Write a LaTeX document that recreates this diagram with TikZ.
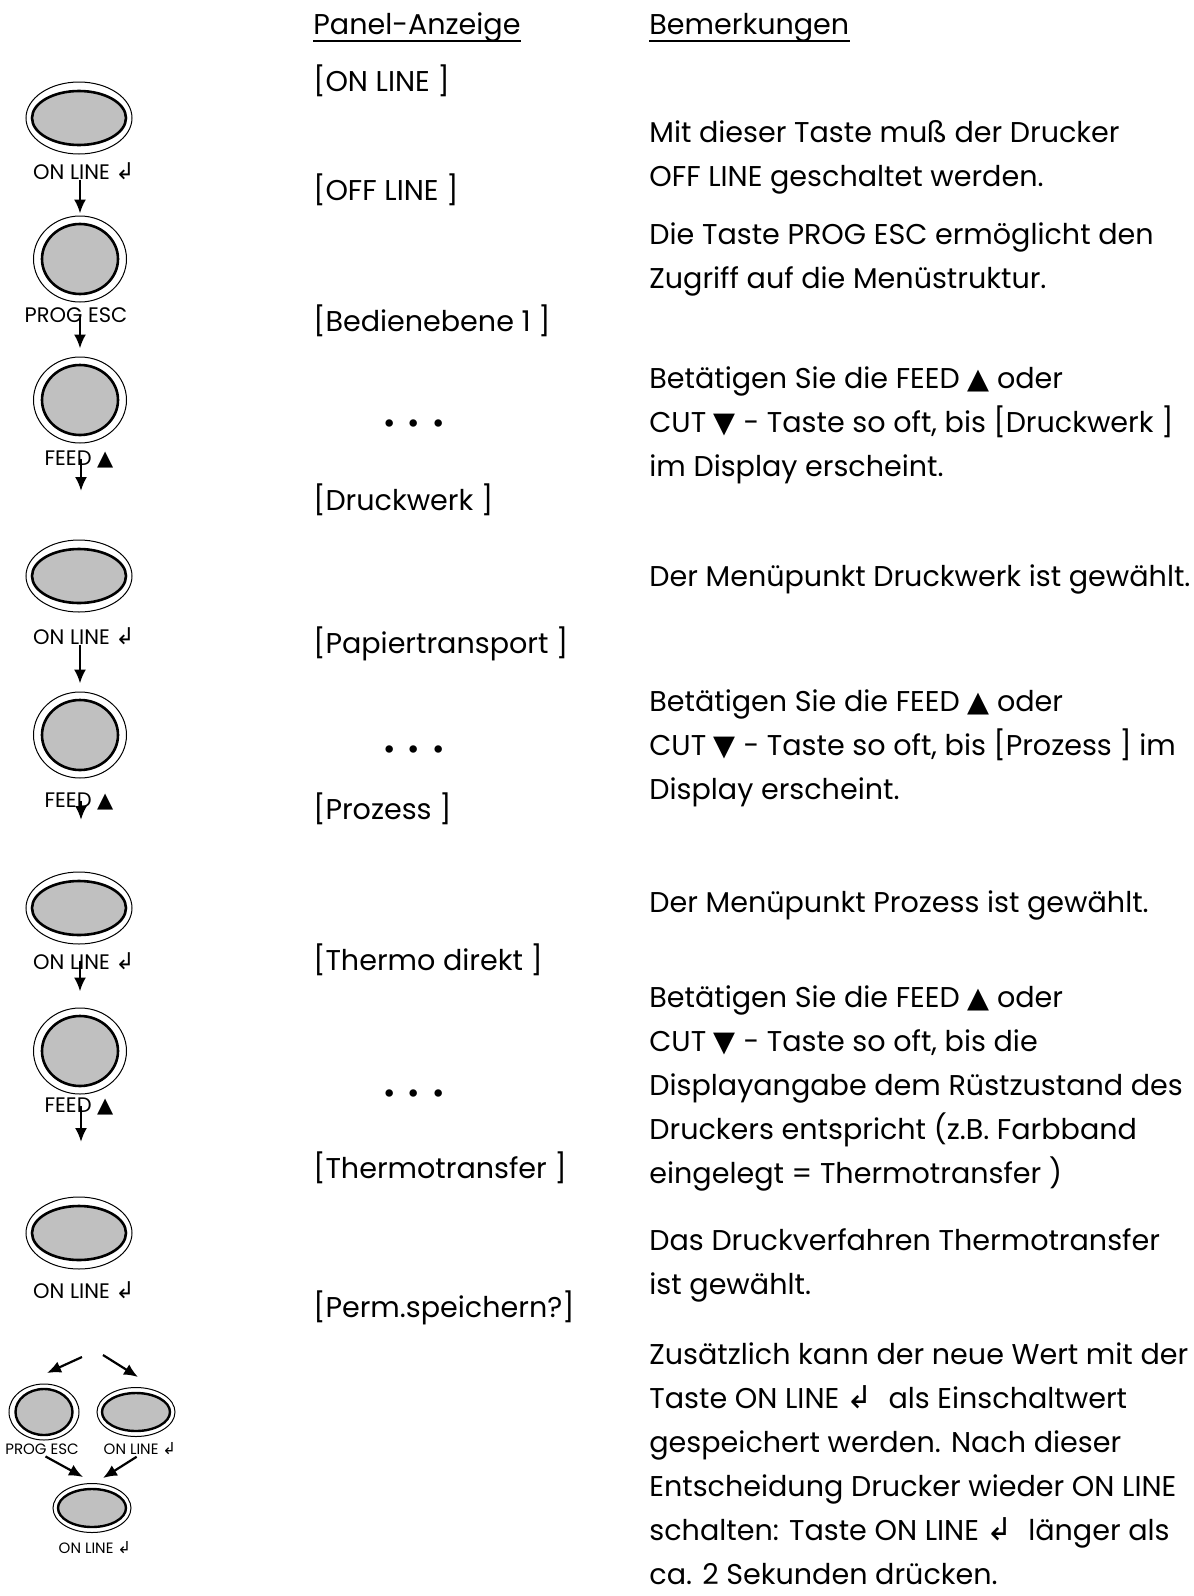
\documentclass[tikz,border=0pt]{standalone}
\usepackage{fontspec}
\setmainfont{Poppins}
\newfontfamily\symfont{DejaVu Sans}
\usepackage{tikz}
\usetikzlibrary{arrows.meta,positioning,shapes.geometric}
\definecolor{keygray}{HTML}{C0C0C0}
\newcommand{\enterkey}{{\symfont\scalebox{1.1}{↲}}}
\newcommand{\upmark}{{\symfont ▲}}
\newcommand{\downmark}{{\symfont ▼}}

\begin{document}
\begin{tikzpicture}[x=0.5pt, y=-0.5pt,
  txt/.style={anchor=base west, inner sep=0pt, font=\fontsize{14.3}{22}\selectfont},
  rem/.style={txt, align=left},
  dots/.style={inner sep=0pt, font=\fontsize{15}{22}\selectfont},
  ovalring/.style={ellipse, draw, line width=0.5pt, fill=white, inner sep=0pt,
    minimum width=53pt, minimum height=36pt},
  ovalkey/.style={ellipse, draw, line width=1.3pt, fill=keygray, inner sep=0pt,
    minimum width=47pt, minimum height=27pt},
  roundring/.style={ellipse, draw, line width=0.5pt, fill=white, inner sep=0pt,
    minimum width=46.5pt, minimum height=43pt},
  roundkey/.style={ellipse, draw, line width=1.3pt, fill=keygray, inner sep=0pt,
    minimum width=38pt, minimum height=35pt},
  smallring/.style={ellipse, draw, line width=0.5pt, fill=white, inner sep=0pt,
    minimum width=35pt, minimum height=28pt},
  smallkey/.style={ellipse, draw, line width=1.2pt, fill=keygray, inner sep=0pt,
    minimum width=28.5pt, minimum height=23pt},
  flatring/.style={ellipse, draw, line width=0.5pt, fill=white, inner sep=0pt,
    minimum width=39pt, minimum height=24.5pt},
  flatkey/.style={ellipse, draw, line width=1.2pt, fill=keygray, inner sep=0pt,
    minimum width=34pt, minimum height=19pt},
  keylabel/.style={anchor=base, inner sep=0pt, font=\fontsize{10.5}{12}\selectfont},
  tinylabel/.style={anchor=base, inner sep=0pt, font=\fontsize{7.5}{9}\selectfont},
  arr/.style={-{Latex[length=7pt, width=6pt]}, line width=1.1pt},
]
  \useasboundingbox (0,0) rectangle (1194,1596);

  % column heads
  \node[txt] (h1) at (313,34) {Panel-Anzeige};
  \node[txt] (h2) at (649,34) {Bemerkungen};
  \draw[line width=0.7pt] ([yshift=-3.5pt]h1.base west) -- ([yshift=-3.5pt]h1.base east);
  \draw[line width=0.7pt] ([yshift=-3.5pt]h2.base west) -- ([yshift=-3.5pt]h2.base east);

  % panel display
  \node[txt] (p1) at (313,91) {[ON LINE ]};
  \node[txt] (p2) at (313,200) {[OFF LINE ]};
  \node[txt] (p3) at (313,331) {[Bedienebene 1 ]};
  \node[dots] (d1) at (414,427) {•\hspace{6pt}•\hspace{6pt}•};
  \node[txt] (p4) at (313,510) {[Druckwerk ]};
  \node[txt] (p5) at (313,653) {[Papiertransport ]};
  \node[dots] (d2) at (414,753) {•\hspace{6pt}•\hspace{6pt}•};
  \node[txt] (p6) at (313,819) {[Prozess ]};
  \node[txt] (p7) at (313,970) {[Thermo direkt ]};
  \node[dots] (d3) at (414,1097) {•\hspace{6pt}•\hspace{6pt}•};
  \node[txt] (p8) at (313,1178) {[Thermotransfer ]};
  \node[txt] (p9) at (313,1317) {[Perm.speichern?]};

  % remarks (placed at the baseline of their last line)
  \node[rem] (r1) at (649,186) {Mit dieser Taste muß der Drucker\\OFF LINE geschaltet werden.};
  \node[rem] (r2) at (649,288) {Die Taste PROG ESC ermöglicht den\\Zugriff auf die Menüstruktur.};
  \node[rem] (r3) at (649,476) {Betätigen Sie die FEED \upmark{} oder\\CUT \downmark{} - Taste so oft, bis [Druckwerk ]\\im Display erscheint.};
  \node[rem] (r4) at (649,586) {Der Menüpunkt Druckwerk ist gewählt.};
  \node[rem] (r5) at (649,799) {Betätigen Sie die FEED \upmark{} oder\\CUT \downmark{} - Taste so oft, bis [Prozess ] im\\Display erscheint.};
  \node[rem] (r6) at (649,912) {Der Menüpunkt Prozess ist gewählt.};
  \node[rem] (r7) at (649,1183) {Betätigen Sie die FEED \upmark{} oder\\CUT \downmark{} - Taste so oft, bis die\\Displayangabe dem Rüstzustand des\\Druckers entspricht (z.B. Farbband\\eingelegt = Thermotransfer )};
  \node[rem] (r8) at (649,1294) {Das Druckverfahren Thermotransfer\\ist gewählt.};
  \node[rem] (r9) at (649,1584) {Zusätzlich kann der neue Wert mit der\\Taste ON LINE \enterkey{}\ \ als Einschaltwert\\gespeichert werden. Nach dieser\\Entscheidung Drucker wieder ON LINE\\schalten: Taste ON LINE \enterkey{}\ \ länger als\\ca. 2 Sekunden drücken.};

  % keys
  \node[ovalring] (k1) at (79,118) {};
  \node[ovalkey] (k1c) at (k1) {};
  \node[keylabel] (l1) at (84,179) {ON LINE \enterkey};
  \node[roundring] (k2) at (80,259) {};
  \node[roundkey] (k2c) at (k2) {};
  \node[keylabel] (l2) at (76,322) {PROG ESC};
  \node[roundring] (k3) at (80,400) {};
  \node[roundkey] (k3c) at (k3) {};
  \node[keylabel] (l3) at (79,465) {FEED \upmark};
  \node[ovalring] (k4) at (79,576) {};
  \node[ovalkey] (k4c) at (k4) {};
  \node[keylabel] (l4) at (84,644) {ON LINE \enterkey};
  \node[roundring] (k5) at (80,735) {};
  \node[roundkey] (k5c) at (k5) {};
  \node[keylabel] (l5) at (79,807) {FEED \upmark};
  \node[ovalring] (k6) at (79,908) {};
  \node[ovalkey] (k6c) at (k6) {};
  \node[keylabel] (l6) at (84,969) {ON LINE \enterkey};
  \node[roundring] (k7) at (80,1051) {};
  \node[roundkey] (k7c) at (k7) {};
  \node[keylabel] (l7) at (79,1112) {FEED \upmark};
  \node[ovalring] (k8) at (79,1233) {};
  \node[ovalkey] (k8c) at (k8) {};
  \node[keylabel] (l8) at (84,1298) {ON LINE \enterkey};

  \node[smallring] (k9) at (44,1412) {};
  \node[smallkey] (k9c) at (k9) {};
  \node[tinylabel] (l9) at (42,1454) {PROG ESC};
  \node[flatring] (k10) at (136,1412) {};
  \node[flatkey] (k10c) at (k10) {};
  \node[tinylabel] (l10) at (140,1454) {ON LINE \enterkey};
  \node[flatring] (k11) at (92,1508) {};
  \node[flatkey] (k11c) at (k11) {};
  \node[tinylabel] (l11) at (95,1553) {ON LINE \enterkey};

  \coordinate (f3) at (81,491);
  \coordinate (f5) at (81,820);
  \coordinate (f7) at (81,1142);
  \coordinate (sL) at (82,1357);
  \coordinate (tL) at (47,1373);
  \coordinate (sR) at (103,1355);
  \coordinate (tR) at (138,1377);
  \coordinate (mL) at (83,1477);
  \coordinate (mR) at (103,1478);

  % arrows
  \draw[arr, shorten >=1pt] (l1.south -| k2.north) -- (k2.north);
  \draw[arr, shorten >=4pt] (l2.center -| k3.north) -- (k3.north);
  \draw[arr] (l3.center -| f3) -- (f3);
  \draw[arr, shorten >=4pt] (l4.south -| k5.north) -- (k5.north);
  \draw[arr] (l5.center -| f5) -- (f5);
  \draw[arr, shorten >=8pt] (l6.center -| k7.north) -- (k7.north);
  \draw[arr] (l7.center -| f7) -- (f7);
  \draw[arr] (sL) -- (tL);
  \draw[arr] (sR) -- (tR);
  \draw[arr, shorten <=2pt] (l9.south) -- (mL);
  \draw[arr, shorten <=2pt] (l10.south) -- (mR);
\end{tikzpicture}
\end{document}
